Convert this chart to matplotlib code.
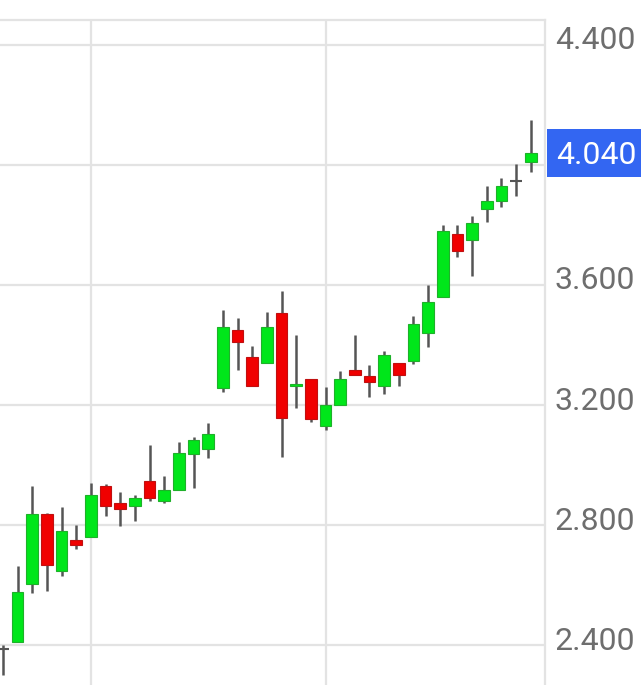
import matplotlib.pyplot as plt
from matplotlib.patches import Rectangle
import matplotlib.transforms as mtransforms

# OHLC values, one entry per candle
opens = [2.387, 2.411, 2.603, 2.837, 2.648, 2.751, 2.761, 2.929, 2.872, 2.862,
         2.948, 2.881, 2.918, 3.037, 3.053, 3.256, 3.451, 3.359, 3.340, 3.506,
         3.264, 3.287, 3.129, 3.200, 3.317, 3.296, 3.264, 3.339, 3.348, 3.439,
         3.559, 3.770, 3.751, 3.853, 3.881, 3.948, 4.009]
highs = [2.400, 2.664, 2.929, 2.840, 2.859, 2.801, 2.940, 2.936, 2.911, 2.901,
         3.068, 2.964, 3.076, 3.092, 3.140, 3.518, 3.489, 3.398, 3.509, 3.581,
         3.433, 3.287, 3.259, 3.314, 3.433, 3.333, 3.381, 3.339, 3.498, 3.600,
         3.800, 3.800, 3.829, 3.929, 3.956, 4.003, 4.151]
lows = [2.300, 2.411, 2.573, 2.581, 2.629, 2.720, 2.761, 2.831, 2.796, 2.814,
        2.881, 2.873, 2.918, 2.922, 3.022, 3.244, 3.318, 3.264, 3.340, 3.027,
        3.189, 3.144, 3.118, 3.200, 3.300, 3.226, 3.237, 3.264, 3.337, 3.392,
        3.559, 3.692, 3.629, 3.811, 3.859, 3.896, 3.978]
closes = [2.387, 2.578, 2.837, 2.668, 2.781, 2.733, 2.900, 2.862, 2.853, 2.890,
          2.889, 2.918, 3.040, 3.084, 3.103, 3.459, 3.411, 3.264, 3.459, 3.156,
          3.270, 3.153, 3.201, 3.287, 3.300, 3.276, 3.367, 3.300, 3.470, 3.542,
          3.781, 3.714, 3.807, 3.881, 3.929, 3.948, 4.040]

y_ticks = [2.4, 2.8, 3.2, 3.6, 4.0, 4.4]
x_grid = [6, 22]
last_price = 4.040

UP_FILL, UP_EDGE = "#00e61a", "#1fb02a"
DOWN_FILL, DOWN_EDGE = "#f00000", "#c01010"
WICK = "#555555"
GRID = "#e3e3e3"

fig = plt.figure(figsize=(6.41, 6.85), dpi=100)
ax = fig.add_axes([0, 0, 545 / 641, 665 / 685])

for i, (o, h, l, c) in enumerate(zip(opens, highs, lows, closes)):
    ax.vlines(i, l, h, color=WICK, linewidth=1.8, zorder=2)
    if c > o:
        ax.bar(i, c - o, bottom=o, width=0.8, color=UP_FILL,
               edgecolor=UP_EDGE, linewidth=0.8, zorder=3)
    elif c < o:
        ax.bar(i, o - c, bottom=c, width=0.8, color=DOWN_FILL,
               edgecolor=DOWN_EDGE, linewidth=0.8, zorder=3)
    else:
        # doji: just a short horizontal tick
        ax.hlines(o, i - 0.4, i + 0.4, color=WICK, linewidth=1.5, zorder=3)

ax.set_xlim(-0.2, 36.97)
ax.set_ylim(2.267, 4.483)

# the 4.000 label sits under the last-price marker, so it is not shown
ax.set_yticks(y_ticks)
ax.set_yticklabels(["" if abs(v - last_price) < 0.1 else f"{v:.3f}" for v in y_ticks])
ax.yaxis.tick_right()
ax.tick_params(axis="y", length=0, pad=7, labelsize=23, labelcolor="#6e6e6e")
ax.set_xticks(x_grid)
ax.tick_params(axis="x", length=0, labelbottom=False)
for lab in ax.get_yticklabels():
    lab.set_fontfamily("Roboto")
    lab.set_transform(lab.get_transform() +
                      mtransforms.ScaledTranslation(0, 7 / 100, fig.dpi_scale_trans))

ax.grid(True, color=GRID, linewidth=1.6, zorder=0)
ax.set_axisbelow(True)
for side in ["left", "bottom"]:
    ax.spines[side].set_visible(False)
for side in ["top", "right"]:
    ax.spines[side].set_color(GRID)
    ax.spines[side].set_linewidth(1.6)

# last price marker on the axis
trans = mtransforms.blended_transform_factory(ax.transAxes, ax.transData)
ax.add_patch(Rectangle((547 / 545, last_price - 0.08), 100 / 545, 0.16,
                       transform=trans, facecolor="#3366f2", edgecolor="none",
                       clip_on=False, zorder=5))
ax.text(556 / 545, last_price, f"{last_price:.3f}", transform=trans,
        fontsize=23, color="white", family="Roboto", va="center_baseline",
        ha="left", zorder=6)

fig.savefig("out.png", dpi=100)
